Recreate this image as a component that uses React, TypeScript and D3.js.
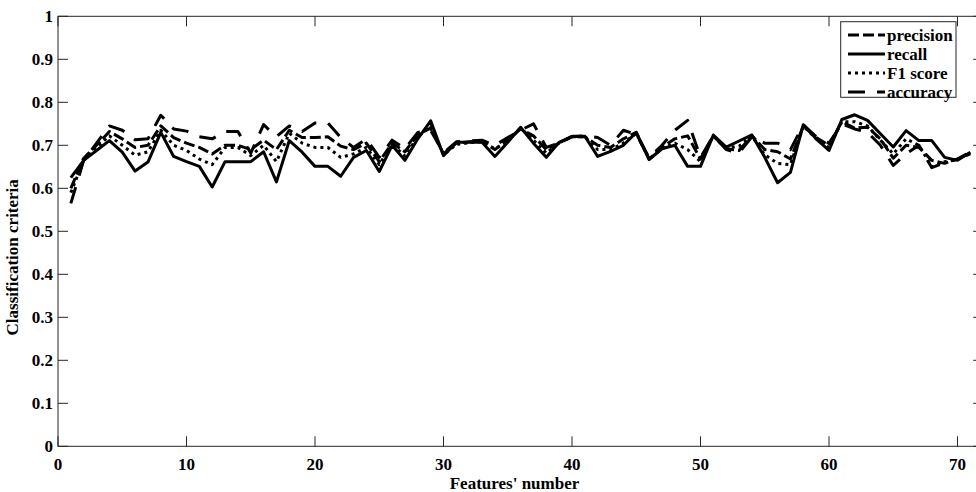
import React from "react";
import * as d3 from "d3";

const features = d3.range(1, 72);

const precision = [
  0.600, 0.670, 0.700, 0.732, 0.715, 0.695, 0.700, 0.745, 0.718, 0.705,
  0.695, 0.680, 0.700, 0.700, 0.690, 0.712, 0.690, 0.735, 0.718, 0.718,
  0.720, 0.698, 0.690, 0.705, 0.662, 0.705, 0.685, 0.725, 0.740, 0.680,
  0.705, 0.708, 0.710, 0.690, 0.712, 0.738, 0.722, 0.690, 0.705, 0.720,
  0.720, 0.700, 0.695, 0.715, 0.730, 0.668, 0.695, 0.715, 0.722, 0.668,
  0.722, 0.692, 0.688, 0.722, 0.690, 0.685, 0.668, 0.745, 0.718, 0.700,
  0.755, 0.740, 0.742, 0.715, 0.670, 0.700, 0.695, 0.665, 0.658, 0.668,
  0.680,
];

const recall = [
  0.625, 0.665, 0.688, 0.711, 0.684, 0.640, 0.661, 0.730, 0.674, 0.662,
  0.651, 0.603, 0.662, 0.662, 0.662, 0.685, 0.615, 0.711, 0.684, 0.651,
  0.651, 0.628, 0.672, 0.688, 0.639, 0.700, 0.665, 0.715, 0.757, 0.676,
  0.707, 0.707, 0.707, 0.674, 0.707, 0.742, 0.705, 0.672, 0.707, 0.721,
  0.721, 0.674, 0.686, 0.700, 0.730, 0.667, 0.692, 0.700, 0.651, 0.651,
  0.724, 0.696, 0.710, 0.724, 0.672, 0.613, 0.637, 0.748, 0.715, 0.688,
  0.760, 0.771, 0.758, 0.727, 0.696, 0.734, 0.711, 0.711, 0.672, 0.665,
  0.684,
];

const f1score = [
  0.590, 0.665, 0.695, 0.722, 0.700, 0.677, 0.685, 0.735, 0.700, 0.688,
  0.668, 0.655, 0.695, 0.695, 0.676, 0.700, 0.662, 0.728, 0.705, 0.695,
  0.695, 0.672, 0.680, 0.695, 0.655, 0.702, 0.675, 0.720, 0.745, 0.678,
  0.702, 0.706, 0.708, 0.692, 0.710, 0.740, 0.712, 0.682, 0.706, 0.720,
  0.720, 0.690, 0.690, 0.705, 0.728, 0.668, 0.692, 0.705, 0.690, 0.662,
  0.722, 0.694, 0.698, 0.722, 0.678, 0.658, 0.655, 0.745, 0.715, 0.695,
  0.755, 0.755, 0.745, 0.712, 0.680, 0.715, 0.700, 0.650, 0.662, 0.668,
  0.682,
];

const accuracy = [
  0.565, 0.665, 0.705, 0.745, 0.735, 0.713, 0.715, 0.770, 0.738, 0.733,
  0.720, 0.715, 0.732, 0.732, 0.682, 0.748, 0.720, 0.745, 0.732, 0.752,
  0.752, 0.718, 0.695, 0.715, 0.672, 0.712, 0.692, 0.730, 0.735, 0.682,
  0.708, 0.710, 0.712, 0.700, 0.718, 0.735, 0.750, 0.695, 0.705, 0.720,
  0.722, 0.718, 0.700, 0.735, 0.725, 0.672, 0.700, 0.735, 0.758, 0.672,
  0.722, 0.690, 0.682, 0.720, 0.705, 0.705, 0.690, 0.748, 0.720, 0.705,
  0.750, 0.738, 0.730, 0.700, 0.653, 0.680, 0.700, 0.648, 0.660, 0.668,
  0.685,
];

const seriesNames = ["precision", "recall", "F1 score", "accuracy"];
const xTicks = [0, 10, 20, 30, 40, 50, 60, 70];
const yTicks = [0, 0.1, 0.2, 0.3, 0.4, 0.5, 0.6, 0.7, 0.8, 0.9, 1];
const xTitle = "Features' number";
const yTitle = "Classification criteria";

const W = 976;
const H = 492;
const left = 58;
const right = 983.2;
const top = 16.3;
const bottom = 446.3;
const tickLen = 10;
const font = "'Liberation Serif', 'Times New Roman', serif";
const fs = 17;

const dashes = ["11,4", null, "3,4", "17,12"];

export default function App() {
  const x = d3.scaleLinear().domain([0, 72]).range([left, right]);
  const y = d3.scaleLinear().domain([0, 1]).range([bottom, top]);
  const all = [precision, recall, f1score, accuracy];
  const line = d3
    .line<number>()
    .x((_, i) => x(features[i]))
    .y((d) => y(d));

  const legX = 840.7;
  const legY = 21.7;
  const legW = 115.3;
  const legH = 75.6;
  const rowY = [35, 54, 73, 92];

  return (
    <svg
      width={W}
      height={H}
      style={{ position: "absolute", left: 0, top: 0, background: "#fff" }}
      fontFamily={font}
      fontWeight="bold"
    >
      <rect x={0} y={0} width={W} height={H} fill="#fff" />
      <defs>
        <clipPath id="plotclip">
          <rect x={left} y={top} width={right - left} height={bottom - top} />
        </clipPath>
      </defs>
      <rect
        x={left}
        y={top}
        width={right - left}
        height={bottom - top}
        fill="none"
        stroke="#262626"
        strokeWidth={1}
      />
      {xTicks.map((t) => (
        <g key={"xt" + t}>
          <line x1={x(t)} x2={x(t)} y1={bottom} y2={bottom - tickLen} stroke="#262626" />
          <line x1={x(t)} x2={x(t)} y1={top} y2={top + tickLen} stroke="#262626" />
          <text x={x(t)} y={469.5} textAnchor="middle" fontSize={fs} fill="#000">
            {t}
          </text>
        </g>
      ))}
      {yTicks.map((t) => (
        <g key={"yt" + t}>
          <line x1={left} x2={left + tickLen} y1={y(t)} y2={y(t)} stroke="#262626" />
          <line x1={right} x2={right - tickLen} y1={y(t)} y2={y(t)} stroke="#262626" />
          <text x={53} y={y(t) + 5.5} textAnchor="end" fontSize={fs} fill="#000">
            {t}
          </text>
        </g>
      ))}
      <text x={(left + 971) / 2} y={489} textAnchor="middle" fontSize={fs} fill="#000">
        {xTitle}
      </text>
      <text
        transform={`translate(18, ${(top + bottom) / 2 + 26}) rotate(-90)`}
        textAnchor="middle"
        fontSize={fs}
        fill="#000"
      >
        {yTitle}
      </text>
      <g clipPath="url(#plotclip)">
        {all.map((s, k) => (
          <path
            key={"s" + k}
            d={line(s) || ""}
            fill="none"
            stroke="#000"
            strokeWidth={3}
            strokeLinejoin="round"
            strokeDasharray={dashes[k] || undefined}
          />
        ))}
      </g>
      <rect x={legX} y={legY} width={legW} height={legH} fill="#fff" stroke="#262626" strokeWidth={1} />
      {seriesNames.map((n, k) => (
        <g key={"lg" + k}>
          <line
            x1={848}
            x2={885}
            y1={rowY[k]}
            y2={rowY[k]}
            stroke="#000"
            strokeWidth={3}
            strokeDasharray={dashes[k] || undefined}
          />
          <text x={887} y={rowY[k] + 5.5} fontSize={fs} fill="#000">
            {n}
          </text>
        </g>
      ))}
    </svg>
  );
}
